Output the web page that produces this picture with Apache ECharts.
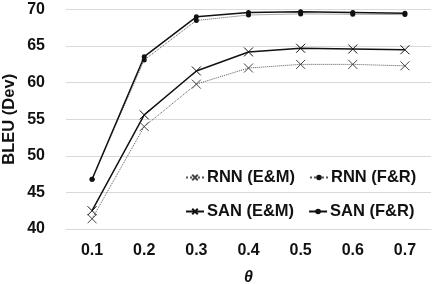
<!DOCTYPE html>
<html><head><meta charset="utf-8">
<script src="https://cdn.jsdelivr.net/npm/echarts@6/dist/echarts.min.js"></script>
<style>html,body{margin:0;padding:0;background:#fff}#c{width:435px;height:284px}</style>
</head><body><div id="c"></div>
<script>
const categories = ['0.1','0.2','0.3','0.4','0.5','0.6','0.7'];
const rnnEM = [41.4, 54.0, 59.8, 62.0, 62.5, 62.5, 62.3];
const rnnFR = [46.8, 63.1, 68.5, 69.25, 69.4, 69.35, 69.3];
const sanEM = [42.5, 55.6, 61.6, 64.2, 64.7, 64.6, 64.5];
const sanFR = [46.8, 63.55, 69.0, 69.6, 69.7, 69.6, 69.5];
const yTicks = [40, 45, 50, 55, 60, 65, 70];

const cross = 'path://M0,0L10,10M0,10L10,0';
const font = 'Liberation Sans, Arial, sans-serif';
function s(name, data, dotted, isCross) {
  return {
    name, type: 'line', data,
    symbol: isCross ? cross : 'circle',
    symbolSize: isCross ? 9 : 5,
    lineStyle: { color: dotted ? '#555' : '#111', width: dotted ? 1 : 1.5, type: dotted ? 'dotted' : 'solid' },
    itemStyle: isCross ? { color: 'rgba(0,0,0,0)', borderColor: dotted ? '#444' : '#111', borderWidth: 1 } : { color: '#111' },
    animation: false
  };
}
const legendText = { color: '#111', fontWeight: 'bold', fontSize: 16.5, fontFamily: font, padding: [0,0,0,-2] };
const chart = echarts.init(document.getElementById('c'));
chart.setOption({
  animation: false,
  grid: { left: 66, right: 4, top: 9.5, bottom: 55, containLabel: false, outerBoundsMode: 'none' },
  xAxis: {
    type: 'category', data: categories, boundaryGap: true,
    axisLine: { lineStyle: { color: '#d9d9d9' } }, axisTick: { show: false },
    axisLabel: { color: '#111', fontWeight: 'bold', fontSize: 16, fontFamily: font, margin: 14 },
    name: 'θ', nameLocation: 'middle', nameGap: 41, nameMoveOverlap: false,
    nameTextStyle: { color: '#111', fontWeight: 'bold', fontStyle: 'italic', fontSize: 16, fontFamily: font }
  },
  yAxis: {
    type: 'value', min: yTicks[0], max: yTicks[yTicks.length - 1], interval: 5,
    axisLine: { show: false }, axisTick: { show: false },
    splitLine: { lineStyle: { color: '#d9d9d9' } },
    axisLabel: { color: '#111', fontWeight: 'bold', fontSize: 16, fontFamily: font, margin: 21 },
    name: 'BLEU (Dev)', nameLocation: 'middle', nameGap: 48, nameMoveOverlap: false,
    nameTextStyle: { color: '#111', fontWeight: 'bold', fontSize: 16.5, fontFamily: font }
  },
  legend: [
    { data: ['RNN (E&M)', 'RNN (F&R)'], left: 185, top: 169, padding: 0, itemWidth: 18, itemHeight: 7, itemGap: 14, textStyle: legendText },
    { data: ['SAN (E&M)', 'SAN (F&R)'], left: 185, top: 203, padding: 0, itemWidth: 18, itemHeight: 7, itemGap: 14, textStyle: legendText }
  ],
  series: [
    s('RNN (E&M)', rnnEM, true, true),
    s('RNN (F&R)', rnnFR, true, false),
    s('SAN (E&M)', sanEM, false, true),
    s('SAN (F&R)', sanFR, false, false)
  ]
});
</script></body></html>
